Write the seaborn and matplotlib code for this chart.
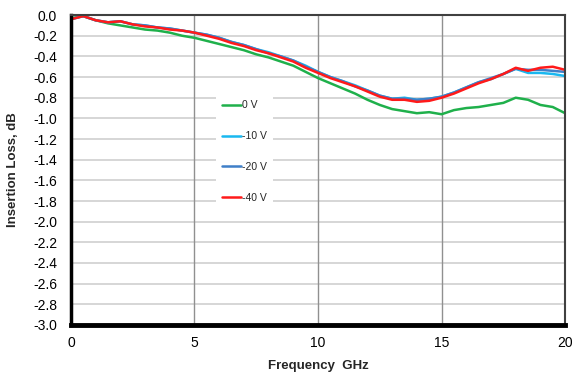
import numpy as np
import pandas as pd
import seaborn as sns
import matplotlib
matplotlib.use("Agg")
import matplotlib.pyplot as plt

freq = [0.0, 0.5, 1.0, 1.5, 2.0, 2.5, 3.0, 3.5, 4.0, 4.5, 5.0, 5.5, 6.0, 6.5, 7.0,
        7.5, 8.0, 8.5, 9.0, 9.5, 10.0, 10.5, 11.0, 11.5, 12.0, 12.5, 13.0, 13.5,
        14.0, 14.5, 15.0, 15.5, 16.0, 16.5, 17.0, 17.5, 18.0, 18.5, 19.0, 19.5, 20.0]

loss_0v = [-0.03, -0.01, -0.05, -0.08, -0.10, -0.12, -0.14, -0.15, -0.17, -0.20,
           -0.22, -0.25, -0.28, -0.31, -0.34, -0.38, -0.41, -0.45, -0.49, -0.55,
           -0.61, -0.66, -0.71, -0.76, -0.82, -0.87, -0.91, -0.93, -0.95, -0.94,
           -0.96, -0.92, -0.90, -0.89, -0.87, -0.85, -0.80, -0.82, -0.87, -0.89, -0.95]

loss_10v = [-0.04, -0.01, -0.05, -0.07, -0.06, -0.09, -0.10, -0.12, -0.13, -0.15,
            -0.17, -0.19, -0.22, -0.26, -0.29, -0.33, -0.36, -0.40, -0.44, -0.49,
            -0.55, -0.60, -0.64, -0.68, -0.73, -0.78, -0.81, -0.80, -0.82, -0.81,
            -0.79, -0.75, -0.70, -0.65, -0.62, -0.57, -0.52, -0.56, -0.56, -0.57, -0.59]

loss_20v = [-0.04, -0.01, -0.05, -0.07, -0.06, -0.09, -0.10, -0.12, -0.13, -0.15,
            -0.17, -0.19, -0.22, -0.26, -0.29, -0.33, -0.37, -0.40, -0.44, -0.50,
            -0.55, -0.60, -0.64, -0.69, -0.73, -0.78, -0.81, -0.81, -0.82, -0.81,
            -0.79, -0.75, -0.70, -0.65, -0.61, -0.57, -0.52, -0.53, -0.53, -0.54, -0.55]

loss_40v = [-0.04, -0.01, -0.05, -0.07, -0.06, -0.09, -0.11, -0.12, -0.14, -0.15,
            -0.17, -0.20, -0.23, -0.27, -0.30, -0.34, -0.37, -0.41, -0.45, -0.51,
            -0.56, -0.61, -0.65, -0.69, -0.74, -0.79, -0.82, -0.82, -0.84, -0.83,
            -0.80, -0.76, -0.71, -0.66, -0.62, -0.57, -0.51, -0.54, -0.51, -0.50, -0.53]

series_labels = ["0 V", "-10 V", "-20 V", "-40 V"]
series_values = [loss_0v, loss_10v, loss_20v, loss_40v]
colors = ["#1fb04b", "#19b8f0", "#3f7fc8", "#ff1a1a"]

yticks = [round(v, 1) for v in np.arange(-3.0, 0.01, 0.2)]
xticks = [0, 5, 10, 15, 20]

df = pd.concat([pd.DataFrame({"freq": freq, "loss": v, "bias": lab})
                for lab, v in zip(series_labels, series_values)], ignore_index=True)

sns.set_style("white")
plt.rcParams["font.family"] = ["Liberation Sans", "DejaVu Sans"]

fig = plt.figure(figsize=(5.72, 3.77), dpi=100)
ax = fig.add_axes([0.124, 0.138, 0.864, 0.822])

sns.lineplot(data=df, x="freq", y="loss", hue="bias", palette=colors,
             hue_order=series_labels, linewidth=1.8, ax=ax)

ax.set_xlim(0, 20)
ax.set_ylim(-3.0, 0.0)
ax.set_xticks(xticks)
ax.set_yticks(yticks)
ax.set_yticklabels([f"{t:.1f}" for t in yticks])
ax.tick_params(axis="both", labelsize=10, direction="out", length=3, width=1.5,
               colors="black")
ax.tick_params(axis="y", pad=7)
ax.tick_params(axis="x", pad=5)

for y in yticks:
    ax.axhline(y, color="#d0d0d0", linewidth=1.2, zorder=0)
for x in [5, 10, 15]:
    ax.axvline(x, color="#909090", linewidth=1.0, zorder=0)

ax.spines["left"].set_linewidth(2.5)
ax.spines["left"].set_color("black")
ax.spines["bottom"].set_linewidth(3.5)
ax.spines["bottom"].set_color("black")
ax.spines["top"].set_linewidth(1.5)
ax.spines["top"].set_color("#404040")
ax.spines["right"].set_linewidth(1.5)
ax.spines["right"].set_color("#404040")

ax.set_xlabel("Frequency  GHz", fontsize=9.5, fontweight="bold", labelpad=7)
ax.set_ylabel("Insertion Loss, dB", fontsize=9.5, fontweight="bold", labelpad=10)

leg = ax.legend(loc="upper left", bbox_to_anchor=(0.293, 0.745), fontsize=7.5,
                frameon=True, framealpha=1, facecolor="white", edgecolor="none",
                fancybox=False, labelspacing=2.0, handlelength=1.8,
                handletextpad=0.1, borderpad=0.6, borderaxespad=0)
leg.set_zorder(5)
for line in leg.get_lines():
    line.set_linewidth(1.8)

fig.savefig("out.png", dpi=100)
